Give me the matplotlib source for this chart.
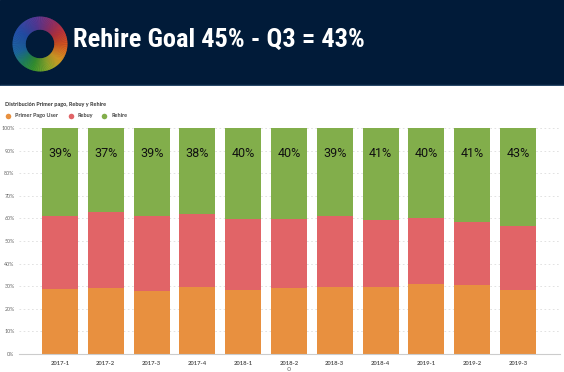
import matplotlib
matplotlib.use("Agg")
import matplotlib.pyplot as plt
from matplotlib.patches import Wedge, Rectangle
from matplotlib.colors import to_rgb
from matplotlib import font_manager
import numpy as np

categories = ["2017-1", "2017-2", "2017-3", "2017-4", "2018-1", "2018-2",
              "2018-3", "2018-4", "2019-1", "2019-2", "2019-3"]
primer_pago = [28.8, 29.2, 28.0, 29.6, 28.3, 29.4, 29.6, 29.6, 30.8, 30.4, 28.3]
rebuy = [32.3, 33.5, 33.0, 32.4, 31.4, 30.3, 31.6, 29.7, 29.5, 28.1, 28.5]
rehire = [38.9, 37.3, 39.0, 38.0, 40.3, 40.3, 38.8, 40.7, 39.7, 41.4, 43.2]
yticks = [0, 10, 20, 30, 40, 50, 60, 70, 80, 90, 100]
series_names = ["Primer Pago User", "Rebuy", "Rehire"]
title = "Rehire Goal 45% - Q3 = 43%"
legend_title = "Distribución Primer pago, Rebuy y Rehire"

c_orange = "#E8903F"
c_red = "#E16467"
c_green = "#82AE4B"
navy = "#011B39"

names = {f.name for f in font_manager.fontManager.ttflist}
def pick(*cands):
    for c in cands:
        if c in names:
            return c
    return "DejaVu Sans"
title_font = pick("Liberation Sans Narrow", "Roboto Condensed", "Arial Narrow", "Roboto", "Liberation Sans")
narrow_found = title_font in ("Liberation Sans Narrow", "Roboto Condensed", "Arial Narrow")
label_font = pick("Roboto", "Liberation Sans")
small_font = pick("Lato", "DejaVu Sans")

W, H = 564, 372
fig = plt.figure(figsize=(W / 100, H / 100), dpi=100)
fig.patch.set_facecolor("white")

def px(x, y, w, h):
    return [x / W, 1 - (y + h) / H, w / W, h / H]

# header
hdr = fig.add_axes(px(0, 0, W, 86))
hdr.set_xlim(0, W); hdr.set_ylim(86, 0)
hdr.axis("off")
hdr.add_patch(Rectangle((0, 0), W, 86, color=navy))
hdr.add_patch(Rectangle((0, 85), W, 1.2, color="#2B4A6A"))
hdr.text(73, 39.5, title, color="white", fontsize=19 if narrow_found else 17.3,
         fontweight="bold", family=title_font, va="center", ha="left")

# logo ring
lg = fig.add_axes(px(12, 16, 56, 56))
lg.set_xlim(-1, 1); lg.set_ylim(-1, 1); lg.set_aspect("equal"); lg.axis("off")
stops = [(0, "#E2561E"), (30, "#C8343A"), (60, "#9A3068"), (100, "#5C3A9C"),
         (150, "#2652B0"), (200, "#1F6AA4"), (230, "#23885A"), (255, "#3A9A2C"),
         (290, "#96B02A"), (320, "#E2A422"), (345, "#E87420"), (360, "#E2561E")]
sa = [s[0] for s in stops]
sc = np.array([to_rgb(s[1]) for s in stops])
n = 240
for i in range(n):
    a0 = 360 * i / n
    a1 = 360 * (i + 1) / n + 0.6
    ang = (a0 + a1) / 2
    col = [np.interp(ang, sa, sc[:, k]) for k in range(3)]
    lg.add_patch(Wedge((0, 0), 0.98, a0, a1, width=0.47, color=col, lw=0))

# main axes
x0_px, step_px = 60, 45.8
left_px, right_px = 19, 560
top_px, bot_px = 128, 354
ax = fig.add_axes(px(left_px, top_px, right_px - left_px, bot_px - top_px))
x = np.arange(len(categories))
ax.set_xlim(-(x0_px - left_px) / step_px, (len(categories) - 1) + (right_px - (x0_px + step_px * 10)) / step_px)
ax.set_ylim(0, 100)
bw = 36 / step_px
b1 = np.array(primer_pago)
b2 = b1 + np.array(rebuy)
ax.bar(x, primer_pago, bw, color=c_orange, zorder=2, label=series_names[0])
ax.bar(x, rebuy, bw, bottom=b1, color=c_red, zorder=2, label=series_names[1])
ax.bar(x, rehire, bw, bottom=b2, color=c_green, zorder=2, label=series_names[2])
for xi, v in zip(x, rehire):
    ax.text(xi, 88.8, f"{round(v)}%", ha="center", va="center", fontsize=9,
            color="#111111", family=label_font, zorder=3)

ax.set_yticks(yticks)
ax.set_yticklabels([f"{t}%" for t in yticks], family=small_font)
ax.set_xticks(x)
ax.set_xticklabels(categories, family=small_font, fontweight="bold")
ax.tick_params(axis="y", length=0, labelsize=3.8, labelcolor="#666666", pad=3.2)
ax.tick_params(axis="x", length=0, labelsize=4.2, labelcolor="#555555", pad=5)
ax.grid(axis="y", linestyle=(0, (2, 3)), color="#DDDDDD", lw=0.6, zorder=0)
for s in ["top", "right", "left"]:
    ax.spines[s].set_visible(False)
ax.spines["bottom"].set_color("#CCCCCC")
ax.spines["bottom"].set_linewidth(0.8)

# legend (manual in figure pixel overlay)
ov = fig.add_axes([0, 0, 1, 1], facecolor="none")
ov.set_xlim(0, W); ov.set_ylim(H, 0); ov.axis("off")
ov.text(5, 104.5, legend_title, fontsize=4.0, fontweight="bold", color="#333333",
        va="center", ha="left", family=small_font)
items = [(7.8, series_names[0], c_orange), (71, series_names[1], c_red), (104, series_names[2], c_green)]
for cx, name, col in items:
    ov.plot(cx, 115.8, "o", color=col, ms=4, mew=0)
    ov.text(cx + 7, 115.8, name, fontsize=4.0, fontweight="bold", color="#444444",
            va="center", ha="left", family=small_font)
ov.text(289, 369, "o", fontsize=5, color="#777777", ha="center", va="center")

fig.savefig("out.png", dpi=100, facecolor="white")
